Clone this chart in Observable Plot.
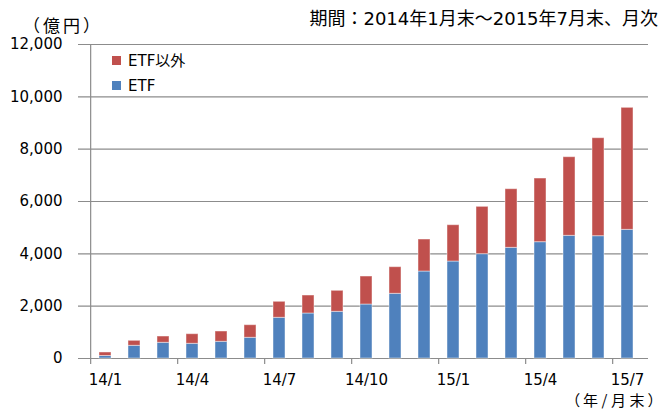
<!DOCTYPE html>
<html><head><meta charset="utf-8">
<script src="https://cdn.jsdelivr.net/npm/d3@7"></script>
<script src="https://cdn.jsdelivr.net/npm/@observablehq/plot@0.6"></script>
<style>
body{margin:0;background:#fff;}
#wrap{position:relative;width:662px;height:411px;font-family:"DejaVu Sans","Noto Sans CJK JP",sans-serif;color:#000;overflow:hidden;}
#wrap svg{position:absolute;left:0;top:0;}
.lbl{position:absolute;white-space:nowrap;font-size:15px;line-height:1;}
.cjk{font-family:"Noto Sans CJK JP",sans-serif;}
.sw{display:inline-block;width:9px;height:9px;margin-right:7px;vertical-align:1px;}
</style></head><body><div id="wrap"></div>
<script>
const months = ["14/1","14/2","14/3","14/4","14/5","14/6","14/7","14/8","14/9","14/10","14/11","14/12","15/1","15/2","15/3","15/4","15/5","15/6","15/7"];
const etf    = [95, 485, 600, 562, 638, 791, 1555, 1720, 1784, 2063, 2472, 3324, 3706, 3987, 4229, 4445, 4688, 4674, 4917];
const nonEtf = [135, 191, 240, 367, 394, 482, 612, 687, 803, 1070, 1018, 1223, 1388, 1809, 2241, 2433, 3005, 3745, 4663];
const seriesNames = ["ETF", "ETF以外"];
const seriesColors = ["#4F81BD", "#C0504D"];
const xTickLabels = ["14/1","14/4","14/7","14/10","15/1","15/4","15/7"];
const yTicks = [0, 2000, 4000, 6000, 8000, 10000, 12000];
const titleText = "期間：2014年1月末～2015年7月末、月次";
const yUnit = "（億円）";
const xUnit = "（年/月末）";

const W = 662, H = 411, ML = 84, MR = 14, MT = 44, MB = 53;
const step = (W - ML - MR) / months.length;
const innerH = H - MT - MB;
const gray = "#8c8c8c";

const rows = months.flatMap((m, i) => [
  {month: m, series: seriesNames[0], value: etf[i]},
  {month: m, series: seriesNames[1], value: nonEtf[i]}
]);

const chart = Plot.plot({
  width: W, height: H,
  marginLeft: ML, marginRight: MR, marginTop: MT, marginBottom: MB,
  style: {fontFamily: '"DejaVu Sans","Noto Sans CJK JP",sans-serif', fontSize: "15px", color: "#000", background: "transparent"},
  x: {type: "band", domain: months, paddingInner: 0.6, paddingOuter: 0.3},
  y: {domain: [0, 12000]},
  color: {domain: seriesNames, range: seriesColors},
  marks: [
    Plot.ruleY(yTicks, {stroke: gray, strokeWidth: 1.2, insetLeft: -6}),
    Plot.ruleX([months[0]], {dx: -step / 2, stroke: gray, strokeWidth: 1.2}),
    Plot.ruleX(xTickLabels, {dx: -step / 2, stroke: gray, strokeWidth: 1.2, insetTop: innerH, insetBottom: -6}),
    Plot.barY(rows, {x: "month", y: "value", fill: "series", stroke: "#fff", strokeOpacity: 0.45, strokeWidth: 1}),
    Plot.axisX({ticks: xTickLabels, tickSize: 0, tickPadding: 16, label: null, fontSize: 15}),
    Plot.axisY({ticks: yTicks, tickSize: 0, tickPadding: 22, label: null, tickFormat: d3.format(","), fontSize: 15})
  ]
});

const wrap = document.getElementById("wrap");
wrap.appendChild(chart);

function addLabel(html, css, cls) {
  const d = document.createElement("div");
  d.className = "lbl" + (cls ? " " + cls : "");
  d.innerHTML = html;
  Object.assign(d.style, css);
  wrap.appendChild(d);
}
addLabel(titleText, {right: "4px", top: "10px", fontSize: "18px"});
addLabel(yUnit, {left: "23px", top: "16px", fontSize: "17px", letterSpacing: "3px"}, "cjk");
addLabel(xUnit, {right: "3px", top: "392px", fontSize: "15px", letterSpacing: "3.5px", fontFeatureSettings: '"palt"'}, "cjk");
addLabel(`<span class="sw" style="background:${seriesColors[1]}"></span>${seriesNames[1]}`, {left: "112px", top: "54px"});
addLabel(`<span class="sw" style="background:${seriesColors[0]}"></span>${seriesNames[0]}`, {left: "112px", top: "79px"});
</script></body></html>
